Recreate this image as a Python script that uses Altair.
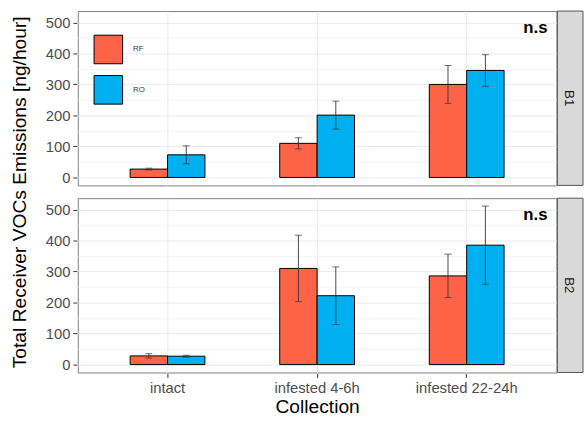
import altair as alt
import pandas as pd

# Collection stages, blocks and receiver groups
collections = ["intact", "infested 4-6h", "infested 22-24h"]
blocks = ["B1", "B2"]
groups = ["RF", "RO"]
group_colors = ["#FF6347", "#00B0F0"]

# Mean emissions [ng/hour] and standard errors per block and group
b1_rf_mean = [27, 110, 300]
b1_rf_se = [3, 18, 61]
b1_ro_mean = [73, 201, 345]
b1_ro_se = [29, 45, 51]
b2_rf_mean = [28, 310, 286]
b2_rf_se = [7, 107, 70]
b2_ro_mean = [27, 222, 385]
b2_ro_se = [3, 93, 126]

series = [
    ("B1", "RF", b1_rf_mean, b1_rf_se),
    ("B1", "RO", b1_ro_mean, b1_ro_se),
    ("B2", "RF", b2_rf_mean, b2_rf_se),
    ("B2", "RO", b2_ro_mean, b2_ro_se),
]
rows = []
for block, group, means, ses in series:
    for coll, m, s in zip(collections, means, ses):
        rows.append({"Block": block, "Group": group, "Collection": coll,
                     "mean": m, "lo": m - s, "hi": m + s})
df = pd.DataFrame(rows)

# y range with 5% expansion on both sides
ymax = float(df["hi"].max())
ylo, yhi = -0.05 * ymax, ymax * 1.05

W, H, GAP = 486, 177, 11
FONT = "Liberation Sans"
YTITLE = "Total Receiver VOCs Emissions [ng/hour]"

x_enc = alt.X(
    "Collection:N", sort=collections,
    scale=alt.Scale(paddingInner=0.5, paddingOuter=0.35),
    axis=alt.Axis(title="Collection", grid=True, bandPosition=0.5,
                  gridColor="#EBEBEB", gridWidth=1.1, labelAngle=0,
                  tickSize=4, labelPadding=3, titlePadding=3),
)
x_off = alt.XOffset("Group:N", sort=groups,
                    scale=alt.Scale(paddingInner=0, paddingOuter=0))
y_scale = alt.Scale(domain=[ylo, yhi], nice=False, zero=False)
y_axis = alt.Axis(
    values=list(range(0, 501, 50)),
    labelExpr="datum.value % 100 === 0 ? datum.label : ''",
    labelOverlap=False,
    gridColor=alt.condition("datum.value % 100 === 0",
                            alt.value("#EBEBEB"), alt.value("#F3F3F3")),
    tickOpacity=alt.condition("datum.value % 100 === 0",
                              alt.value(1), alt.value(0)),
    tickSize=4, labelPadding=3, title=None,
)

base = alt.Chart(df)

bars = base.mark_bar(stroke="black", strokeWidth=1).encode(
    x=x_enc, xOffset=x_off,
    y=alt.Y("mean:Q", scale=y_scale, axis=y_axis),
    y2=alt.datum(0),
    color=alt.Color(
        "Group:N", sort=groups,
        scale=alt.Scale(domain=groups, range=group_colors),
        legend=alt.Legend(
            title=None, orient="none", legendX=16, legendY=24,
            symbolType="square", symbolSize=841, symbolStrokeColor="black",
            symbolStrokeWidth=1, labelFontSize=8, labelOffset=10,
            rowPadding=7, labelColor="#333333", padding=0,
        ),
    ),
)

err = base.mark_rule(color="#333333", strokeWidth=0.9).encode(
    x=x_enc, xOffset=x_off,
    y=alt.Y("lo:Q", scale=y_scale, axis=y_axis),
    y2="hi:Q",
)
cap_lo = base.mark_tick(orient="horizontal", size=7, thickness=1,
                        color="#333333").encode(
    x=x_enc, xOffset=x_off, y=alt.Y("lo:Q", scale=y_scale, axis=y_axis))
cap_hi = base.mark_tick(orient="horizontal", size=7, thickness=1,
                        color="#333333").encode(
    x=x_enc, xOffset=x_off, y=alt.Y("hi:Q", scale=y_scale, axis=y_axis))

one_row = "datum.Collection === 'intact' && datum.Group === 'RF'"

ns = base.transform_filter(one_row).mark_text(
    text="n.s", font=FONT, fontWeight="bold", fontSize=17,
    align="right", baseline="alphabetic", color="black",
).encode(x=alt.value(W - 9), y=alt.value(22))

strip = base.transform_filter(one_row).mark_rect(
    fill="#D9D9D9", stroke="#555555", strokeWidth=1,
).encode(x=alt.value(W + 1), x2=alt.value(W + 27),
         y=alt.value(0), y2=alt.value(H))

strip_text = base.transform_filter(one_row).mark_text(
    font=FONT, fontSize=13.5, angle=90, align="center",
    baseline="middle", color="#1A1A1A",
).encode(x=alt.value(W + 13), y=alt.value(H / 2), text="Block:N")

panel = alt.layer(bars, err, cap_lo, cap_hi, ns, strip,
                  strip_text).properties(width=W, height=H)

# the row header title serves as the shared y-axis title
chart = panel.facet(
    row=alt.Row("Block:N", sort=blocks,
                header=alt.Header(
                    labels=False, title=YTITLE, titleOrient="left",
                    titleFont=FONT, titleFontSize=19.5,
                    titleFontWeight="normal", titleColor="black",
                    titlePadding=4)),
    spacing=GAP,
).properties(
    padding={"left": 10, "top": 7, "right": 0, "bottom": 0},
).configure_view(
    stroke="#808080", strokeWidth=1,
).configure_axis(
    labelFont=FONT, titleFont=FONT, labelFontSize=15, titleFontSize=19.5,
    labelColor="#4D4D4D", tickColor="#333333", titleColor="black",
    titleFontWeight="normal", domain=False,
).configure_legend(
    labelFont=FONT,
)

chart.save("out.html", embed_options={"renderer": "svg", "actions": False})
